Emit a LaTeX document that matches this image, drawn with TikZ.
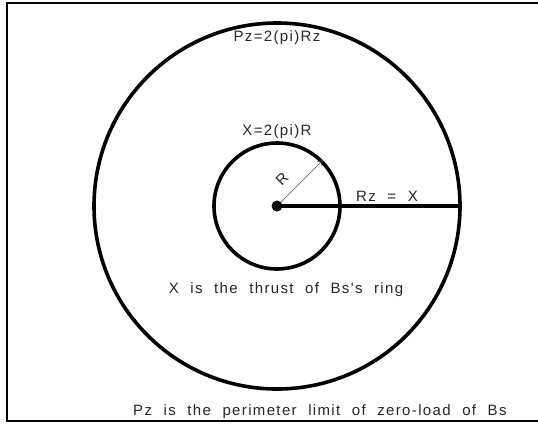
\documentclass[tikz,border=0pt]{standalone}
\usepackage{fontspec}
\newfontfamily\cadfont[LetterSpace=9,WordSpace=2.1]{Liberation Sans}
\usetikzlibrary{arrows.meta}
\tikzset{
  ring/.style={draw, circle, line width=3.6pt, inner sep=0pt},
  cadtext/.style={font=\cadfont\fontsize{15}{17}\selectfont, text=black!85, inner sep=0pt}
}
\begin{document}
\begin{tikzpicture}[x=1pt, y=-1pt]
    \useasboundingbox (0, 0) rectangle (538, 423);
    % Frame, open on the right
    \draw[line width=2pt] (538, 3) -- (7, 3) -- (7, 421) -- (538, 421);
    % Rings round the centre of Bs
    \coordinate (c) at (277, 206);
    \node[ring, minimum size=366pt] (pz) at (c) {};
    \node[ring, minimum size=126pt] (x) at (c) {};
    % Radius Rz and radius R
    \draw[line width=3.2pt] (c) -- (pz.east);
    \draw[line width=0.6pt, black!70, -{Straight Barb[length=5pt, width=6pt]}] (c) -- (x.45);
    \fill (c) circle (5.5pt);
    % Labels
    \node[cadtext, rotate=45] (r) at (282, 179) {R};
    \node[cadtext] (pzlab) at (277, 38) {Pz=2(pi)Rz};
    \node[cadtext] (xlab) at (277, 132) {X=2(pi)R};
    \node[cadtext, anchor=west] (rzlab) at (356, 196) {Rz = X};
    \node[cadtext] (ring) at (286, 290) {X is the thrust of Bs's ring};
    \node[cadtext, anchor=west] (limit) at (133, 412) {Pz is the perimeter limit of zero-load of Bs};
\end{tikzpicture}
\end{document}
